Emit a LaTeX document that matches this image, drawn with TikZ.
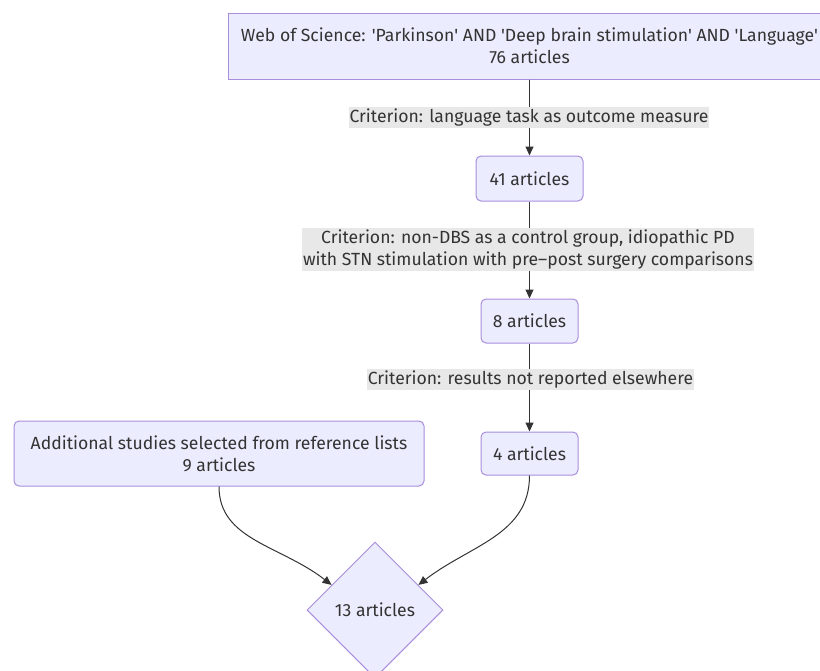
\documentclass[tikz,border=0pt]{standalone}
\usepackage{fontspec}
\setmainfont{Fira Sans}
\usetikzlibrary{arrows.meta,shapes.geometric}
\definecolor{boxfill}{HTML}{ECECFF}
\definecolor{boxdraw}{HTML}{A88EDC}
\definecolor{ink}{HTML}{333333}
\definecolor{lblfill}{HTML}{E8E8E8}
\newcommand\sq{\textquotesingle}
\begin{document}
\begin{tikzpicture}[x=1pt,y=-1pt,
  font=\fontsize{17.6}{22}\selectfont, text=ink,
  box/.style={draw=boxdraw, fill=boxfill, line width=1pt, rounded corners=5pt, align=center, inner sep=0pt},
  lbl/.style={fill=lblfill, align=center, inner xsep=1pt, inner ysep=2pt},
  arr/.style={draw=ink, line width=1pt, -{Triangle[length=9pt,width=8pt]}}]
\useasboundingbox (0,0) rectangle (820,670);
\clip (0,0) rectangle (820,670);
\fill[white] (0,0) rectangle (820,670);
% boxes
\node[box, rounded corners=0pt, minimum width=602pt, minimum height=66pt] (top) at (529.5,46)
  {Web of Science: \sq Parkinson\sq{} AND \sq Deep brain stimulation\sq{} AND \sq Language\sq\\76 articles};
\node[box, minimum width=107pt, minimum height=45pt] (a41) at (529.5,178.5) {41 articles};
\node[box, minimum width=97pt, minimum height=44pt] (a8) at (529.5,321) {8 articles};
\node[box, minimum width=97pt, minimum height=43pt] (a4) at (529.5,453.5) {4 articles};
\node[box, minimum width=410pt, minimum height=65pt] (lb) at (219,453.5)
  {Additional studies selected from reference lists\\9 articles};
\node[draw=boxdraw, fill=boxfill, line width=1pt, diamond, aspect=1,
  minimum width=136pt, minimum height=136pt, inner sep=0pt] (dia) at (375,610) {13 articles};
% connectors
\draw[arr] (top) -- (a41);
\draw[arr] (a41) -- (a8);
\draw[arr] (a8) -- (a4);
\draw[arr] (lb.south) .. controls (219,540) and (280,545) .. (dia.150);
\draw[arr] (a4.south) .. controls (529.5,535) and (470,545) .. (dia.30);
% edge labels
\node[lbl] (l1) at (529,117.5) {Criterion: language task as outcome measure};
\node[lbl] (l2) at (528,249.5) {Criterion: non-DBS as a control group, idiopathic PD\\with STN stimulation with pre--post surgery comparisons};
\node[lbl] (l3) at (530.5,379.5) {Criterion: results not reported elsewhere};
\end{tikzpicture}
\end{document}
